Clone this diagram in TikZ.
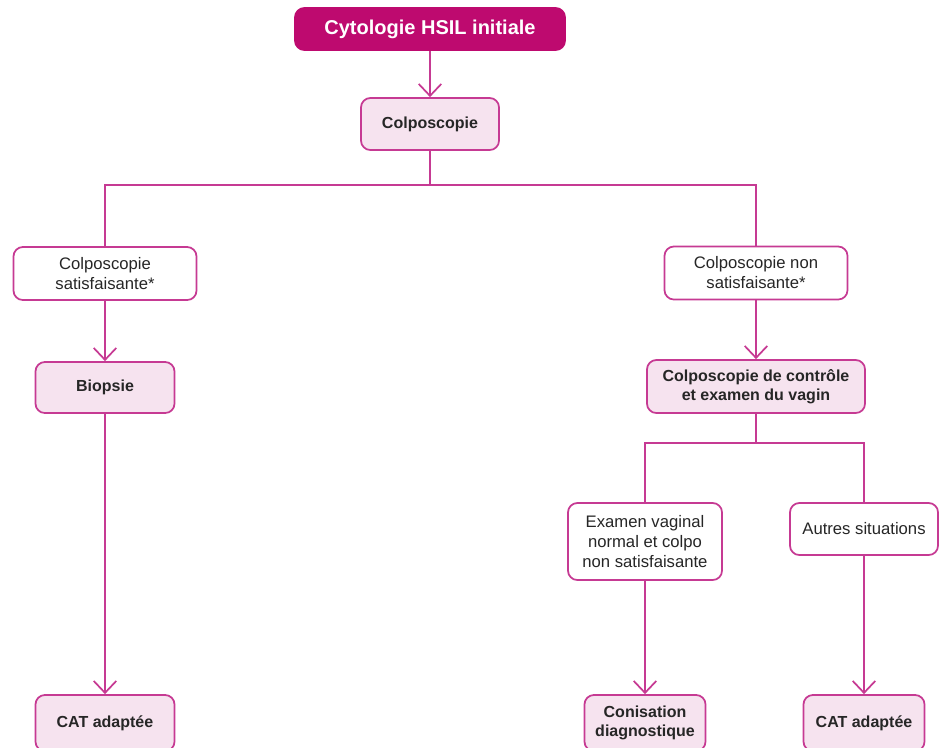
\documentclass[tikz,border=0pt]{standalone}
\usepackage{fontspec}
\setmainfont{Liberation Sans}
\usetikzlibrary{arrows.meta}
\definecolor{hsilmag}{HTML}{BE0A6F}
\definecolor{hsilline}{HTML}{C63A93}
\definecolor{hsilpink}{HTML}{F6E3EF}
\definecolor{hsiltext}{HTML}{262626}
\tikzset{
  box/.style={draw=hsilline, line width=1.3pt, rounded corners=7pt, inner sep=0pt,
    align=center, text=hsiltext, font=\fontsize{12.5}{15}\selectfont},
  plainbox/.style={box, fill=white},
  pinkbox/.style={box, fill=hsilpink, font=\bfseries\fontsize{12}{14.5}\selectfont},
  link/.style={hsilline, line width=1.3pt},
  arrowlink/.style={link, -{Straight Barb[length=9pt,width=17pt]}},
}
\begin{document}
\begin{tikzpicture}[x=0.75pt,y=-0.75pt]
\useasboundingbox (0,0) rectangle (939,747);
% top of the tree
\node[box, fill=hsilmag, draw=hsilmag, text=white, font=\bfseries\fontsize{15}{18}\selectfont,
  minimum width=202.5pt, minimum height=31.5pt] (hsil) at (430,29) {Cytologie HSIL initiale};
\node[pinkbox, minimum width=103.5pt, minimum height=39pt] (colpo) at (430,124) {Colposcopie};
\draw[arrowlink] (hsil) -- (colpo);
% first split
\node[plainbox, minimum width=137.25pt, minimum height=39.75pt] (sat) at (105,273.5) {Colposcopie\\satisfaisante*};
\node[plainbox, minimum width=137.25pt, minimum height=39.75pt] (nonsat) at (756,273) {Colposcopie non\\satisfaisante*};
\coordinate (split1) at (430,185);
\draw[link] (colpo) -- (split1);
\draw[link] (split1) -| (sat);
\draw[link] (split1) -| (nonsat);
% left branch
\node[pinkbox, minimum width=104.25pt, minimum height=38.25pt] (biopsie) at (105,387.5) {Biopsie};
\node[pinkbox, minimum width=104.25pt, minimum height=42pt] (cat1) at (105,723) {CAT adaptée};
\draw[arrowlink] (sat) -- (biopsie);
\draw[arrowlink] (biopsie) -- (cat1);
% right branch
\node[pinkbox, minimum width=163.5pt, minimum height=39.75pt] (ctrl) at (756,386.5) {Colposcopie de contrôle\\et examen du vagin};
\draw[arrowlink] (nonsat) -- (ctrl);
\node[plainbox, minimum width=115.5pt, minimum height=57.75pt] (exam) at (645,541.5) {Examen vaginal\\normal et colpo\\non satisfaisante};
\node[plainbox, minimum width=111pt, minimum height=39pt] (autres) at (864,529) {Autres situations};
\coordinate (split2) at (756,443);
\draw[link] (ctrl) -- (split2);
\draw[link] (split2) -| (exam);
\draw[link] (split2) -| (autres);
\node[pinkbox, minimum width=90.75pt, minimum height=42pt] (conis) at (645,723) {Conisation\\diagnostique};
\node[pinkbox, minimum width=90.75pt, minimum height=42pt] (cat2) at (864,723) {CAT adaptée};
\draw[arrowlink] (exam) -- (conis);
\draw[arrowlink] (autres) -- (cat2);
\end{tikzpicture}
\end{document}
